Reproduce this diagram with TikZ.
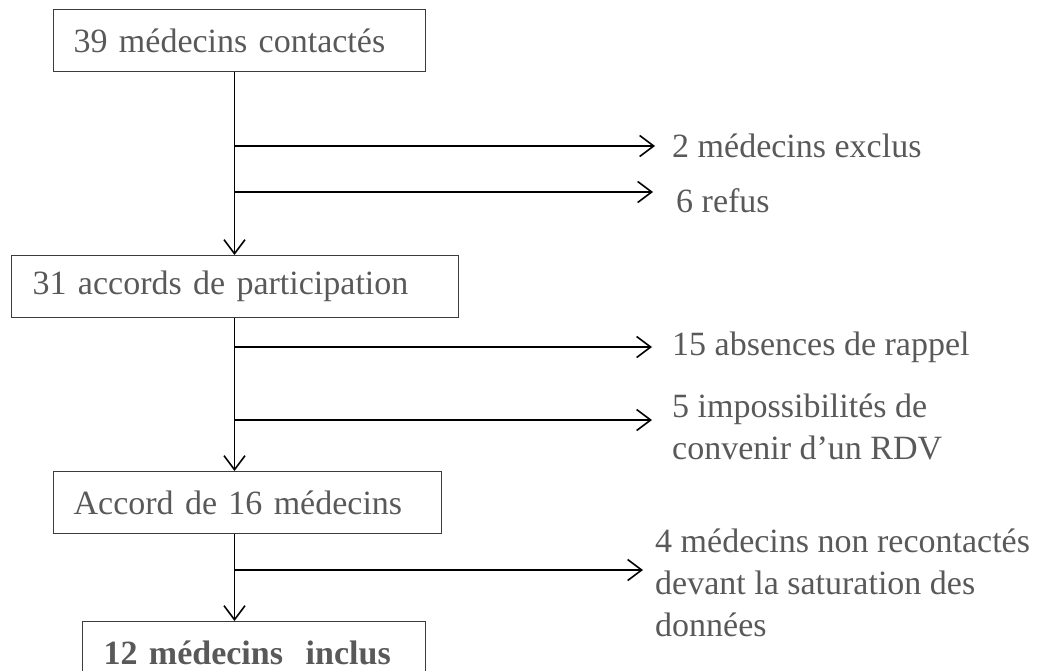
\documentclass[tikz,border=0pt]{standalone}
\usepackage{fontspec}
\setmainfont{Liberation Serif}
\usetikzlibrary{arrows.meta}
\definecolor{txtgray}{RGB}{89,89,89}
\definecolor{boxgray}{RGB}{60,60,60}
\begin{document}
\begin{tikzpicture}[x=1pt,y=-1pt,
    every node/.style={font=\fontsize{34}{42}\selectfont,text=txtgray},
    stage/.style={draw=boxgray,line width=1.3pt,anchor=north west,minimum height=62pt,align=left,inner ysep=0pt},
    outcome/.style={anchor=north west,inner sep=0pt,align=left},
    flow/.style={line width=1.6pt,-{Straight Barb[length=14pt,width=21pt,line width=1.6pt]}}]
  \useasboundingbox (0,0) rectangle (1055,670);
  \node[stage,inner xsep=20pt,text width=332pt] (b1) at (53,9) {39 médecins contactés};
  \node[stage,inner xsep=21pt,text width=405pt] (b2) at (11,255) {31 accords de participation};
  \node[stage,inner xsep=20pt,text width=348pt] (b3) at (53,471) {Accord de 16 médecins};
  \node[stage,inner xsep=21pt,text width=301pt] (b4) at (82,621) {\bfseries 12 médecins~ inclus};
  \coordinate (spine) at (234.5,0);
  \coordinate (e1) at (655,146);
  \coordinate (e2) at (653,192);
  \coordinate (e3) at (652,347);
  \coordinate (e4) at (652,420);
  \coordinate (e5) at (643,570);
  \node[outcome] (t1) at (672,134) {2 médecins exclus};
  \node[outcome] (t2) at (676,188) {6 refus};
  \node[outcome] (t3) at (672,332) {15 absences de rappel};
  \node[outcome] (t4) at (672,394) {5 impossibilités de\\convenir d’un RDV};
  \node[outcome] (t5) at (655,529) {4 médecins non recontactés\\devant la saturation des\\données};
  \draw[flow] (spine |- b1.south) -- (spine |- b2.north);
  \draw[flow] (spine |- b2.south) -- (spine |- b3.north);
  \draw[flow] (spine |- b3.south) -- (spine |- b4.north);
  \draw[flow] (spine |- e1) -- (e1);
  \draw[flow] (spine |- e2) -- (e2);
  \draw[flow] (spine |- e3) -- (e3);
  \draw[flow] (spine |- e4) -- (e4);
  \draw[flow] (spine |- e5) -- (e5);
\end{tikzpicture}
\end{document}
